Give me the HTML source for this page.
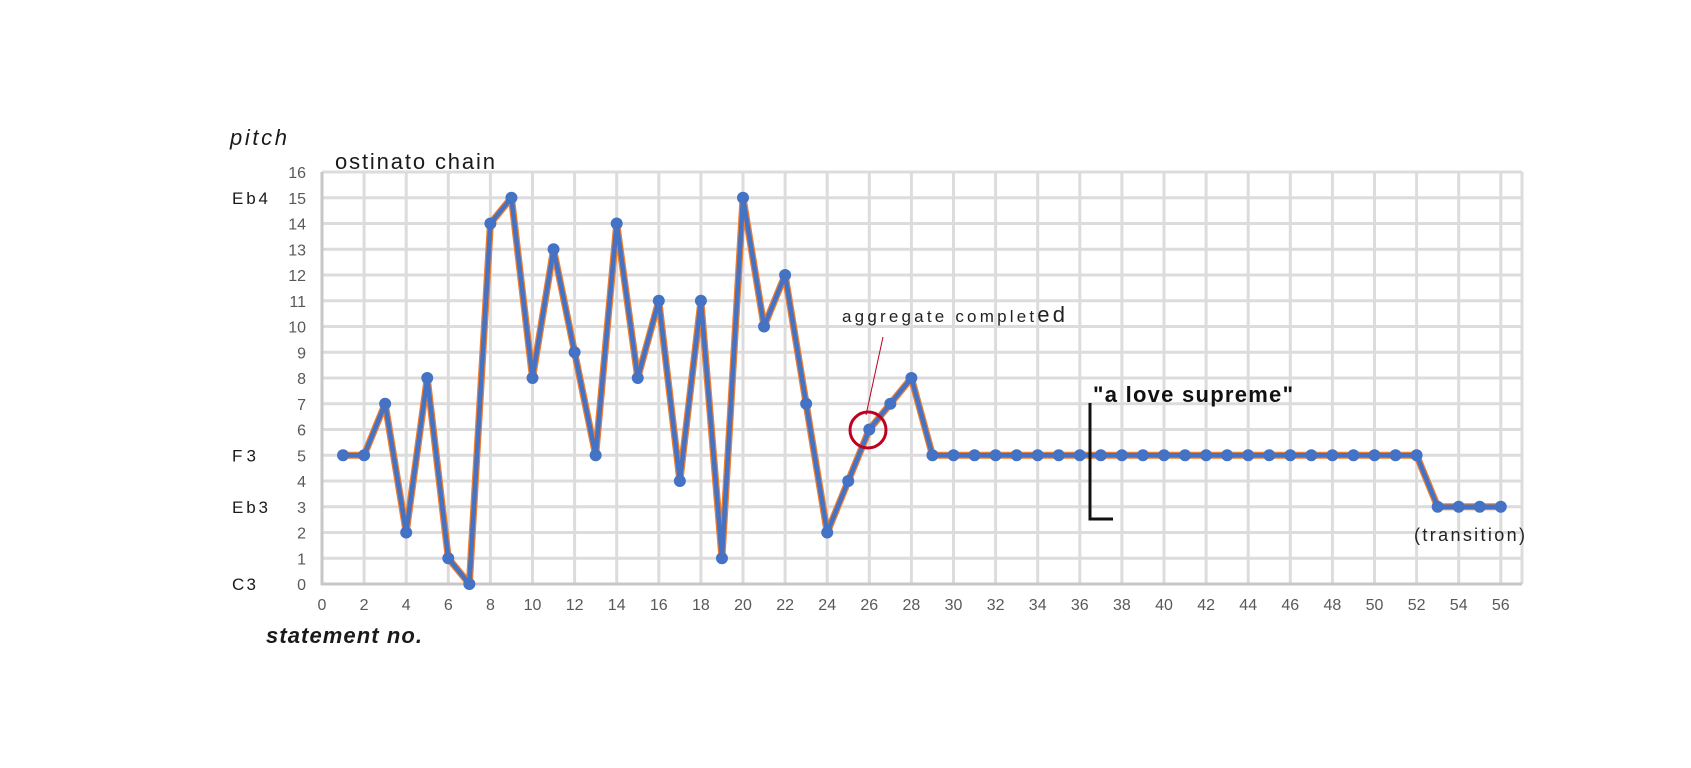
<!DOCTYPE html>
<html><head><meta charset="utf-8"><style>
html,body{margin:0;padding:0;background:#fff;}
svg{display:block;font-family:"Liberation Sans",sans-serif;}
</style></head><body>
<svg id="s" width="1691" height="768" xmlns="http://www.w3.org/2000/svg"></svg>
<script>
const s=document.getElementById('s');
const X=v=>322+21.05*v, Y=v=>584-25.75*v;
let h='';
for(let i=1;i<=16;i++)h+=`<line x1="322" x2="1522" y1="${Y(i)}" y2="${Y(i)}" stroke="#dcdcdc" stroke-width="3"/>`;
for(let i=2;i<=56;i+=2)h+=`<line x1="${X(i)}" x2="${X(i)}" y1="172" y2="584" stroke="#dcdcdc" stroke-width="3"/>`;
h+=`<line x1="1522" x2="1522" y1="172" y2="584" stroke="#dcdcdc" stroke-width="3"/>`;
h+=`<line x1="322" x2="322" y1="172" y2="585" stroke="#c8c6c6" stroke-width="3"/>`;
h+=`<line x1="321" x2="1522" y1="584" y2="584" stroke="#c8c6c6" stroke-width="3"/>`;
for(let i=0;i<=16;i++)h+=`<text x="306" y="${Y(i)+6}" font-size="16" fill="#595959" text-anchor="end">${i}</text>`;
for(let i=0;i<=56;i+=2)h+=`<text x="${X(i)}" y="610" font-size="16" fill="#595959" text-anchor="middle">${i}</text>`;
[["Eb4",15],["F3",5],["Eb3",3],["C3",0]].forEach(([t,v])=>h+=`<text x="232" y="${Y(v)+6}" font-size="17" fill="#1a1a1a" textLength="${t.length*12}" lengthAdjust="spacing">${t}</text>`);
const d=[5,5,7,2,8,1,0,14,15,8,13,9,5,14,8,11,4,11,1,15,10,12,7,2,4,6,7,8];
for(let i=29;i<=52;i++)d.push(5);for(let i=53;i<=56;i++)d.push(3);
const pts=d.map((v,i)=>`${X(i+1)},${Y(v)}`).join(' ');
h+=`<polyline points="${pts}" fill="none" stroke="#ed7d31" stroke-width="7" stroke-linejoin="round"/>`;
h+=`<polyline points="${pts}" fill="none" stroke="#4472c4" stroke-width="4.5" stroke-linejoin="round"/>`;
d.forEach((v,i)=>h+=`<circle cx="${X(i+1)}" cy="${Y(v)}" r="6" fill="#4472c4"/>`);
h+=`<text x="230" y="145" font-size="22" font-style="italic" fill="#1a1a1a" textLength="57" lengthAdjust="spacing">pitch</text>`;
h+=`<text x="335" y="169" font-size="22" fill="#1a1a1a" textLength="160" lengthAdjust="spacing">ostinato chain</text>`;
h+=`<text x="266" y="643" font-size="22" font-style="italic" font-weight="bold" fill="#1a1a1a" textLength="156" lengthAdjust="spacing">statement no.</text>`;
h+=`<text x="842" y="322" font-size="17" fill="#222" textLength="223" lengthAdjust="spacing">aggregate complet<tspan font-size="22">ed</tspan></text>`;
h+=`<line x1="883" y1="337" x2="866" y2="415" stroke="#c00020" stroke-width="1"/>`;
h+=`<circle cx="868" cy="430" r="18" fill="none" stroke="#c00020" stroke-width="3"/>`;
h+=`<polyline points="1090,403 1090,519 1113,519" fill="none" stroke="#111" stroke-width="3"/>`;
h+=`<text x="1093" y="402" font-size="22" font-weight="bold" fill="#111" textLength="200" lengthAdjust="spacing">"a love supreme"</text>`;
h+=`<text x="1414" y="541" font-size="18" fill="#222" textLength="111" lengthAdjust="spacing">(transition)</text>`;
s.innerHTML=h;
</script>
</body></html>
